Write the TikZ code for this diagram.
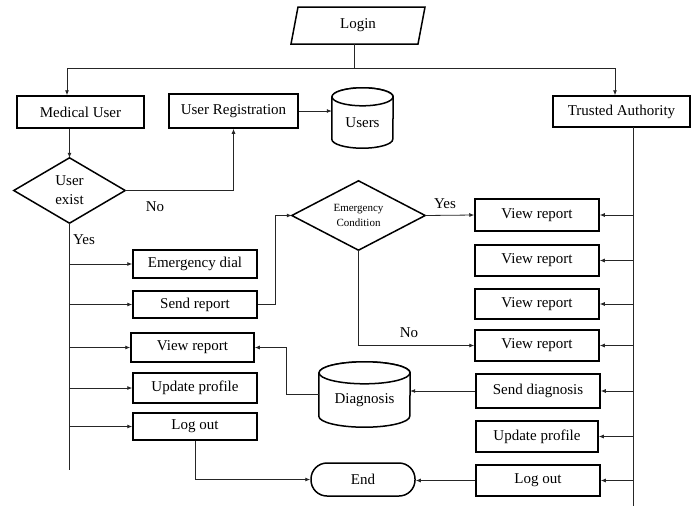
\documentclass[tikz,border=0pt]{standalone}
\usepackage{fontspec}
\setmainfont{Liberation Serif}
\usetikzlibrary{arrows.meta,calc}
\begin{document}
\begin{tikzpicture}[x=1pt,y=-1pt,
  box/.style={draw=black,line width=1.5pt,fill=white,inner sep=0pt,font=\fontsize{15}{19}\selectfont,align=center},
  ghost/.style={inner sep=0pt,font=\fontsize{15}{19}\selectfont,align=center},
  shp/.style={draw=black,line width=1.5pt,fill=white},
  conn/.style={draw=black!85,line width=0.8pt},
  arr/.style={conn,-{Latex[length=5pt,width=4pt]}},
  lbl/.style={font=\fontsize{15}{19}\selectfont,inner sep=0pt}]
\useasboundingbox[fill=white] (0,0) rectangle (695,506);
% --- Login parallelogram
\node[ghost,minimum width=127pt,minimum height=37pt] (login) at (358,25.5) {};
\draw[shp] (291,44) -- (298,7) -- (425,7) -- (418,44) -- cycle;
\node[ghost] at (login) {Login};
\coordinate (split) at (354,68);
% --- top row
\node[box,minimum width=127pt,minimum height=32pt] (mu) at (80.5,112) {Medical User};
\node[box,minimum width=129pt,minimum height=34pt] (ureg) at (233.5,111) {User Registration};
\node[ghost,minimum width=61pt,minimum height=60pt] (users) at (362.5,118) {};
\node[box,minimum width=137pt,minimum height=31pt] (ta) at (621.5,111.5) {Trusted Authority};
% Users cylinder
\draw[shp] ($(users.north west)+(0,9)$) -- ($(users.south west)+(0,-9)$)
  arc[start angle=180,end angle=0,x radius=30.5,y radius=9] -- ($(users.north east)+(0,9)$)
  arc[start angle=0,end angle=-180,x radius=30.5,y radius=9];
\draw[shp] ($(users.north)+(0,9)$) ellipse[x radius=30.5,y radius=9];
\node[ghost] at ($(users.center)+(0,5)$) {Users};
% --- User exist diamond
\node[ghost,minimum width=111pt,minimum height=65pt] (ue) at (69.5,190.5) {};
\draw[shp] (ue.west) -- (ue.north) -- (ue.east) -- (ue.south) -- cycle;
\node[ghost] at (ue) {User\\exist};
% --- Emergency condition diamond
\node[ghost,minimum width=133pt,minimum height=69pt] (ec) at (358.5,215.5) {};
\draw[shp] (ec.west) -- (ec.north) -- (ec.east) -- (ec.south) -- cycle;
\node[ghost,font=\fontsize{11}{15}\selectfont] at (ec) {Emergency\\Condition};
% --- left column
\node[box,minimum width=124pt,minimum height=28pt] (ed) at (195,264) {Emergency dial};
\node[box,minimum width=124pt,minimum height=27pt] (sr) at (195,304.5) {Send report};
\node[box,minimum width=123pt,minimum height=29pt] (vrl) at (192.5,347.5) {View report};
\node[box,minimum width=124pt,minimum height=30pt] (upl) at (195,388) {Update profile};
\node[box,minimum width=124pt,minimum height=27pt] (lol) at (195,426.5) {Log out};
% --- right column
\node[box,minimum width=124pt,minimum height=32pt] (vr1) at (537,215) {View report};
\node[box,minimum width=124pt,minimum height=31pt] (vr2) at (537,260.5) {View report};
\node[box,minimum width=124pt,minimum height=30pt] (vr3) at (537,304) {View report};
\node[box,minimum width=124pt,minimum height=31pt] (vr4) at (537,345.5) {View report};
\node[box,minimum width=124pt,minimum height=34pt] (sd) at (538,391) {Send diagnosis};
\node[box,minimum width=122pt,minimum height=31pt] (upr) at (537,436.5) {Update profile};
\node[box,minimum width=124pt,minimum height=31pt] (lor) at (538,480.5) {Log out};
% --- Diagnosis cylinder
\node[ghost,minimum width=91pt,minimum height=65pt] (diag) at (364.5,394.5) {};
\draw[shp] ($(diag.north west)+(0,11)$) -- ($(diag.south west)+(0,-11)$)
  arc[start angle=180,end angle=0,x radius=45.5,y radius=11] -- ($(diag.north east)+(0,11)$)
  arc[start angle=0,end angle=-180,x radius=45.5,y radius=11];
\draw[shp] ($(diag.north)+(0,11)$) ellipse[x radius=45.5,y radius=11];
\node[ghost] at ($(diag.center)+(0,6)$) {Diagnosis};
% --- End terminal
\node[box,rounded corners=16pt,minimum width=104pt,minimum height=33pt] (endn) at (363,479.5) {End};
% --- trunks
\coordinate (lt) at (69.5,470);
\coordinate (trk) at (633,127);
\coordinate (trkb) at (633,506);
% --- connectors
\draw[conn] (login.south -| split) -- (split);
\draw[arr] (split) -| ([xshift=-13.5pt]mu.north);
\draw[arr] (split) -| ([xshift=-6.5pt]ta.north);
\draw[arr] (mu.south -| ue.north) -- (ue.north);
\draw[arr] (ue.east) -| (ureg.south);
\draw[arr] (ureg.east) -- (ureg.east -| users.west);
\draw[conn] (ue.south) -- (lt);
\foreach \n in {ed,sr,vrl,upl,lol}{\draw[arr] (\n.west -| lt) -- (\n.west);}
\draw[arr] (sr.east) -- ++(18,0) |- (ec.west);
\draw[arr] (ec.east) -- (vr1.west);
\draw[arr] (ec.south) |- (vr4.west);
\draw[conn] (trk) -- (trkb);
\foreach \n in {vr1,vr2,vr3,vr4,sd,upr,lor}{\draw[arr] (\n.east -| trk) -- (\n.east);}
\draw[arr] (sd.west) -- (sd.west -| diag.east);
\draw[arr] (diag.west) -- ++(-32,0) |- (vrl.east);
\draw[arr] (lor.west) -- (lor.west -| endn.east);
\draw[arr] (lol.south) |- (endn.west);
% --- labels
\node[lbl] at (155,207) {No};
\node[lbl] at (84,240) {Yes};
\node[lbl] at (445,204) {Yes};
\node[lbl] at (409,333) {No};
\end{tikzpicture}
\end{document}
